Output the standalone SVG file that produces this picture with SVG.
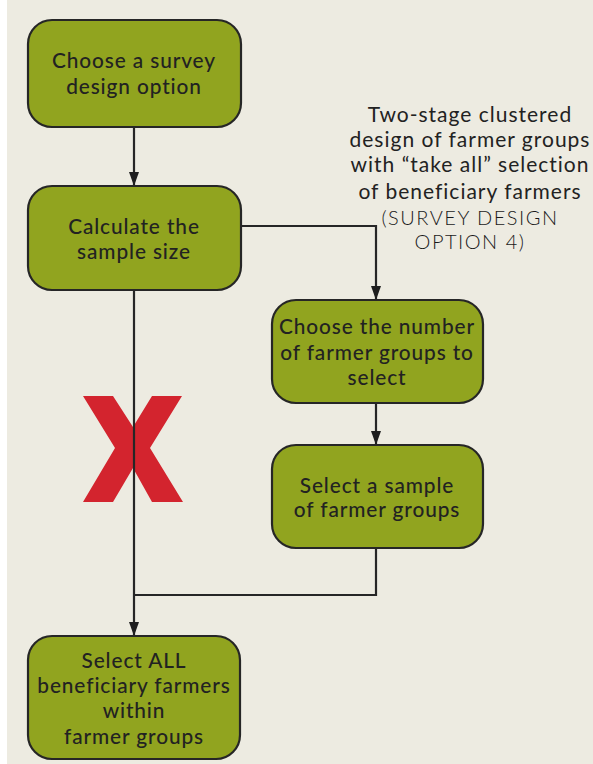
<svg xmlns="http://www.w3.org/2000/svg" width="593" height="764" viewBox="0 0 593 764">
<defs>
<style>
.box{fill:#91A41F;stroke:#262626;stroke-width:2.2}
.bt{font-family:Lato,"Noto Sans",sans-serif;font-size:20.8px;fill:#222;text-anchor:middle;font-weight:500;letter-spacing:0.9px}
.at{font-family:Lato,"Noto Sans",sans-serif;font-size:21px;fill:#222;text-anchor:middle;letter-spacing:1px}
.al{font-family:Lato,"Noto Sans",sans-serif;font-size:20px;fill:#1a1a1a;text-anchor:middle;font-weight:300;letter-spacing:1.5px}
.ln{fill:none;stroke:#262626;stroke-width:2.2}
</style>
<marker id="ah" viewBox="0 0 14 10" refX="14" refY="5" markerWidth="14" markerHeight="10" markerUnits="userSpaceOnUse" orient="auto">
<path d="M0,0 L14,5 L0,10 Z" fill="#1e1e1e"/>
</marker>
</defs>
<rect x="0" y="0" width="593" height="764" fill="#ffffff"/>
<rect x="7" y="0" width="586" height="764" fill="#EDEBE1"/>
<polygon id="cross" points="83,396 113,396 133,427 152,396 182,396 150,448 183,502 152,502 133,468 113,502 83,502 115,448" fill="#D3242E"/>
<g id="connectors">
<line class="ln" x1="134" y1="127" x2="134" y2="186" marker-end="url(#ah)"/>
<polyline class="ln" points="241,226 376,226 376,300" marker-end="url(#ah)"/>
<line class="ln" x1="376" y1="403" x2="376" y2="445" marker-end="url(#ah)"/>
<polyline class="ln" points="376,548 376,595 134,595"/>
<line class="ln" x1="134" y1="290" x2="134" y2="636" marker-end="url(#ah)"/>
</g>
<g id="n1">
<rect class="box" x="28" y="20" width="213" height="107" rx="24"/>
<text class="bt" x="134" y="68">Choose a survey</text>
<text class="bt" x="134" y="94">design option</text>
</g>
<g id="n2">
<rect class="box" x="28" y="186" width="213" height="104" rx="24"/>
<text class="bt" x="134" y="234">Calculate the</text>
<text class="bt" x="134" y="259">sample size</text>
</g>
<g id="n3">
<rect class="box" x="272" y="300" width="211" height="103" rx="24"/>
<text class="bt" x="377" y="334">Choose the number</text>
<text class="bt" x="377" y="360">of farmer groups to</text>
<text class="bt" x="377" y="385">select</text>
</g>
<g id="n4">
<rect class="box" x="272" y="445" width="211" height="103" rx="24"/>
<text class="bt" x="377" y="493">Select a sample</text>
<text class="bt" x="377" y="517">of farmer groups</text>
</g>
<g id="n5">
<rect class="box" x="28" y="636" width="212" height="123" rx="24"/>
<text class="bt" x="134" y="668">Select ALL</text>
<text class="bt" x="134" y="693">beneficiary farmers</text>
<text class="bt" x="134" y="718">within</text>
<text class="bt" x="134" y="744">farmer groups</text>
</g>
<g id="annotation">
<text class="at" x="470" y="122">Two-stage clustered</text>
<text class="at" x="470" y="147">design of farmer groups</text>
<text class="at" x="470" y="172">with “take all” selection</text>
<text class="at" x="470" y="199">of beneficiary farmers</text>
<text class="al" x="470" y="225">(SURVEY DESIGN</text>
<text class="al" x="470" y="249">OPTION 4)</text>
</g>
</svg>
